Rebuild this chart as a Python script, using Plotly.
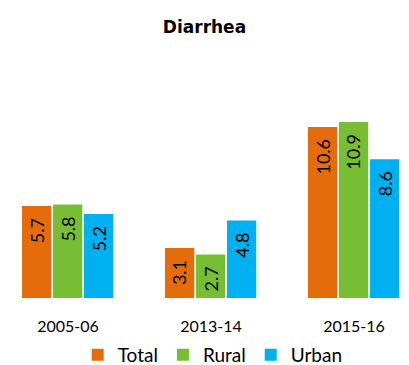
import plotly.graph_objects as go

# Survey rounds and prevalence of diarrhea (%)
rounds = ["2005-06", "2013-14", "2015-16"]
total = [5.7, 3.1, 10.6]
rural = [5.8, 2.7, 10.9]
urban = [5.2, 4.8, 8.6]

series = [
    ("Total", total, "#E46C0A"),
    ("Rural", rural, "#78BE35"),
    ("Urban", urban, "#00B0F0"),
]

x_idx = list(range(len(rounds)))
bar_w = 0.205
step = 0.2168
start = -0.322

fig = go.Figure()
annotations = []
for i, (name, vals, color) in enumerate(series):
    off = start + i * step
    fig.add_trace(go.Bar(
        x=x_idx, y=vals, name=name,
        width=bar_w, offset=off,
        marker=dict(color=color, line=dict(width=0)),
    ))
    for xi, v in zip(x_idx, vals):
        annotations.append(dict(
            x=xi + off + bar_w / 2, y=v, xref="x", yref="y",
            text=f"{v:.1f}", showarrow=False, textangle=-90,
            yanchor="top", xanchor="center", yshift=-10,
            font=dict(family="Lato", size=18, color="#000000"),
        ))

fig.update_layout(
    width=409, height=365,
    margin=dict(l=0, r=0, t=60, b=67, autoexpand=False),
    paper_bgcolor="white", plot_bgcolor="white",
    barmode="overlay",
    title=dict(text="<b>Diarrhea</b>", x=0.5, xanchor="center", y=0.925, yanchor="middle",
               font=dict(family="DejaVu Sans", size=17, color="#000000")),
    xaxis=dict(range=[-0.476, 2.385], tickmode="array", tickvals=x_idx, ticktext=rounds,
               showgrid=False, zeroline=False, showline=False, automargin=False,
               ticks="outside", ticklen=14, tickcolor="rgba(0,0,0,0)",
               tickfont=dict(family="Lato", size=16, color="#000000")),
    yaxis=dict(range=[0, 14.75], visible=False, showgrid=False, zeroline=False),
    legend=dict(orientation="h", x=0.52, xanchor="center",
                yref="container", y=0.028, yanchor="middle",
                font=dict(family="Lato", size=19, color="#000000"),
                itemwidth=30, traceorder="normal"),
    annotations=annotations,
    showlegend=True,
)

fig.write_html("out.html")
